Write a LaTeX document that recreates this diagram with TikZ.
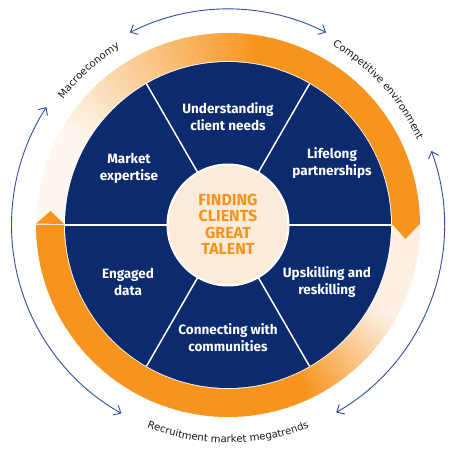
\documentclass[tikz,border=0pt]{standalone}
\usepackage{fontspec}
\setmainfont{Fira Sans}
\newfontfamily\ringfont{DejaVu Sans}
\usetikzlibrary{arrows.meta,decorations.text}
\definecolor{navy}{HTML}{0C2A6E}
\definecolor{orng}{HTML}{F7941D}
\definecolor{paleA}{HTML}{FEF7F0}
\definecolor{paleB}{HTML}{FDEFE2}
\definecolor{peach}{HTML}{FDEBDA}
\definecolor{bline}{HTML}{2F4F9E}
\definecolor{ink}{HTML}{1A1718}
\newcommand\outerfont{\ringfont\fontsize{10.1}{10}\selectfont}
\tikzset{
  seglabel/.style={text=white, font=\bfseries\fontsize{13.5}{17}\selectfont, align=center},
  corelabel/.style={text=orng, font=\bfseries\fontsize{16}{16.5}\selectfont, align=center},
  cycarrow/.style={bline, line width=0.9pt, {Straight Barb[length=6pt,width=11pt]}-{Straight Barb[length=6pt,width=11pt]}},
  divider/.style={white, line width=1.5pt}
}
\begin{document}
\begin{tikzpicture}[x=1pt,y=1pt]
\useasboundingbox[fill=white] (0,0) rectangle (460,460);
\begin{scope}[shift={(228,235)}]
  % upper swirl (clockwise from 180 to 0)
  \foreach \a in {0,2,...,178}{
    \pgfmathsetmacro\m{\a+1}
    \pgfmathsetmacro\b{min(\a+2.4,180)}
    \pgfmathsetmacro\t{max(0,min(100,100*(150-\m)/70))}
    \fill[orng!\t!paleA] (\a:164) arc[start angle=\a,end angle=\b,radius=164]
      -- (\b:192) arc[start angle=\b,end angle=\a,radius=192] -- cycle;
  }
  % lower swirl (clockwise from 0 to -180)
  \foreach \a in {-180,-178,...,-2}{
    \pgfmathsetmacro\m{\a+1}
    \pgfmathsetmacro\b{min(\a+2.4,0)}
    \pgfmathsetmacro\t{max(0,min(100,100*(-30-\m)/35))}
    \fill[orng!\t!paleB] (\a:164) arc[start angle=\a,end angle=\b,radius=164]
      -- (\b:192) arc[start angle=\b,end angle=\a,radius=192] -- cycle;
  }
  % heads
  \fill[orng] (0.4:164) -- (-4.5:178) -- (0.4:192) -- cycle;
  \fill[orng] (179.6:164) -- (175.5:178) -- (179.6:192) -- cycle;
  % navy disk
  \fill[navy] (0,0) circle[radius=163];
  \foreach \a in {0,60,...,300}{
    \draw[divider] (0,0) -- (\a:163);
  }
  \node[circle, fill=peach, draw=white, line width=2pt, minimum size=121pt, inner sep=0pt] (core) at (0,0) {};
  \node[corelabel] (coretext) at (0,0.5) {FINDING\\CLIENTS\\GREAT\\TALENT};
  % segment labels
  \node[seglabel] (s1) at (0,108) {Understanding\\client needs};
  \node[seglabel] (s2) at (104,62) {Lifelong\\partnerships};
  \node[seglabel] (s3) at (99,-57) {Upskilling and\\reskilling};
  \node[seglabel] (s4) at (0,-113) {Connecting with\\communities};
  \node[seglabel] (s5) at (-100,-57) {Engaged\\data};
  \node[seglabel] (s6) at (-99,57) {Market\\expertise};
  % outer cycle arrows
  \draw[cycarrow] (117:216) arc[start angle=117,end angle=63,radius=216];
  \draw[cycarrow] (20:216.5) arc[start angle=20,end angle=-60,radius=216.5];
  \draw[cycarrow] (240.5:216.5) arc[start angle=240.5,end angle=147,radius=216.5];
  % outer labels
  \path[decorate, decoration={text along path, text={|\outerfont|Macroeconomy}, text align=center, text color=ink}]
    (155:207.5) arc[start angle=155,end angle=109,radius=207.5];
  \path[decorate, decoration={text along path, text={|\outerfont|Competitive environment}, text align=center, text color=ink}]
    (76:207.5) arc[start angle=76,end angle=8,radius=207.5];
  \path[decorate, decoration={text along path, text={|\outerfont|Recruitment market megatrends}, text align=center, text color=ink}]
    (-132:218) arc[start angle=-132,end angle=-48,radius=218];
\end{scope}
\end{tikzpicture}
\end{document}
